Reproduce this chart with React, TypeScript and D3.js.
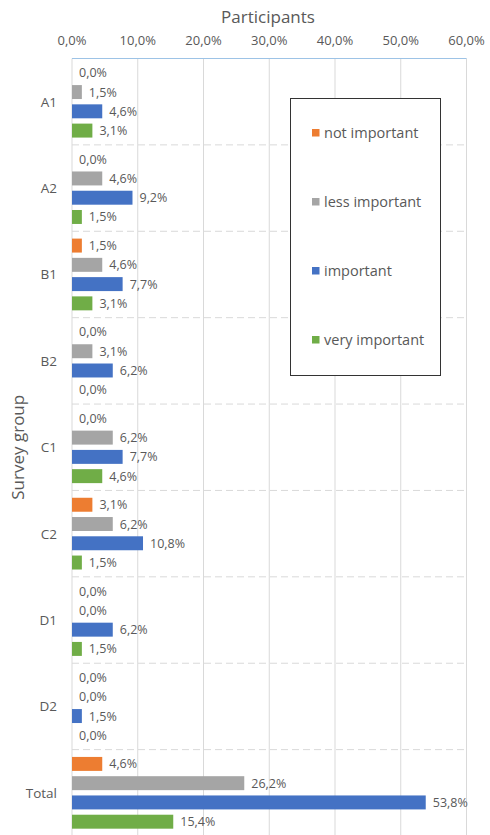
import React from "react";
import * as d3 from "d3";

const groups = ["A1", "A2", "B1", "B2", "C1", "C2", "D1", "D2", "Total"];
const seriesNames = ["not important", "less important", "important", "very important"];
const seriesColors = ["#ED7D31", "#A5A5A5", "#4472C4", "#70AD47"];
const notImportant = [0.0, 0.0, 1.5, 0.0, 0.0, 3.1, 0.0, 0.0, 4.6];
const lessImportant = [1.5, 4.6, 4.6, 3.1, 6.2, 6.2, 0.0, 0.0, 26.2];
const important = [4.6, 9.2, 7.7, 6.2, 7.7, 10.8, 6.2, 1.5, 53.8];
const veryImportant = [3.1, 1.5, 3.1, 0.0, 4.6, 1.5, 1.5, 0.0, 15.4];
const xTicks = [0, 10, 20, 30, 40, 50, 60];

const W = 490;
const H = 835;
const left = 72;
const right = 466.5;
const top = 58.5;
const bottom = 836;
const FONT = "'Open Sans', 'Liberation Sans', sans-serif";
const TXT = "#595959";

const fmt = (v: number) => v.toFixed(1).replace(".", ",") + "%";

export default function App() {
  const x = d3.scaleLinear().domain([0, 60]).range([left, right]);
  const y = d3.scaleBand<string>().domain(groups).range([top, bottom]).padding(0);
  const inner = d3
    .scaleBand<string>()
    .domain(seriesNames)
    .range([0, y.bandwidth()])
    .paddingInner(0.275)
    .paddingOuter(0.38);
  const seriesValues = [notImportant, lessImportant, important, veryImportant];

  return (
    <svg
      width={W}
      height={H}
      style={{ position: "absolute", left: 0, top: 0, background: "#fff" }}
      fontFamily={FONT}
    >
      <rect x={0} y={0} width={W} height={H} fill="#fff" />
      {/* title */}
      <text x={268} y={23} textAnchor="middle" fontSize={17} fill={TXT}>
        Participants
      </text>
      {/* y title */}
      <text
        transform={`translate(24, ${(top + bottom) / 2}) rotate(-90)`}
        textAnchor="middle"
        fontSize={17}
        fill={TXT}
      >
        Survey group
      </text>
      {/* vertical gridlines */}
      {xTicks.map((t) => (
        <line
          key={"g" + t}
          x1={x(t)}
          x2={x(t)}
          y1={top}
          y2={bottom}
          stroke="#D9D9D9"
          strokeWidth={1}
        />
      ))}
      {/* horizontal dashed separators */}
      {groups.slice(1).map((g) => (
        <line
          key={"h" + g}
          x1={left}
          x2={right}
          y1={y(g)!}
          y2={y(g)!}
          stroke="#D9D9D9"
          strokeDasharray="7,4"
          strokeWidth={1}
        />
      ))}
      {/* top axis line */}
      <line x1={left} x2={right} y1={top} y2={top} stroke="#9DC3E6" strokeWidth={1} />
      {/* tick labels */}
      {xTicks.map((t) => (
        <text key={"t" + t} x={x(t)} y={45} textAnchor="middle" fontSize={13} fill={TXT}>
          {fmt(t)}
        </text>
      ))}
      {/* category labels */}
      {groups.map((g) => (
        <text
          key={"c" + g}
          x={57}
          y={y(g)! + y.bandwidth() / 2 + 5}
          textAnchor="end"
          fontSize={13.5}
          fill={TXT}
        >
          {g}
        </text>
      ))}
      {/* bars */}
      {groups.map((g, gi) =>
        seriesNames.map((s, si) => {
          const v = seriesValues[si][gi];
          const by = y(g)! + inner(s)!;
          return (
            <g key={g + s}>
              {v > 0 && (
                <rect
                  x={x(0)}
                  y={by}
                  width={x(v) - x(0)}
                  height={inner.bandwidth()}
                  fill={seriesColors[si]}
                />
              )}
              <text
                x={x(v) + 7}
                y={by + inner.bandwidth() / 2 + 4.5}
                fontSize={12.5}
                fill={TXT}
              >
                {fmt(v)}
              </text>
            </g>
          );
        })
      )}
      {/* legend */}
      <rect x={290.5} y={98.5} width={150} height={277} fill="#fff" stroke="#333" strokeWidth={1} />
      {seriesNames.map((s, i) => {
        const ly = 132.5 + i * 69;
        return (
          <g key={"l" + s}>
            <rect x={312} y={ly - 3.5} width={7.5} height={7.5} fill={seriesColors[i]} />
            <text x={324} y={ly + 5} fontSize={14.5} fill={TXT}>
              {s}
            </text>
          </g>
        );
      })}
    </svg>
  );
}
